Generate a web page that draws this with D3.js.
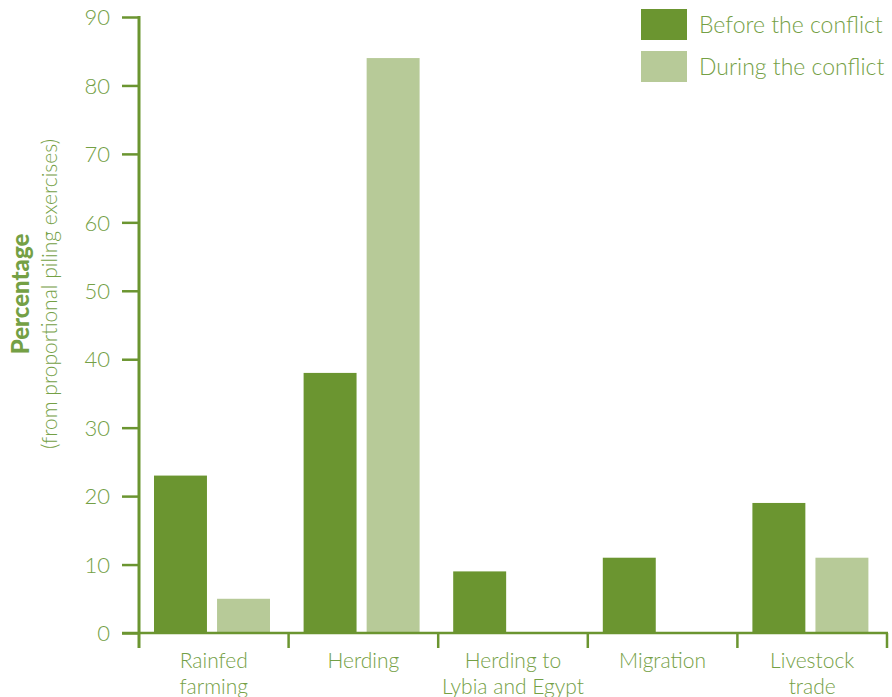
<!DOCTYPE html>
<html><head><meta charset="utf-8">
<script src="https://cdn.jsdelivr.net/npm/d3@7"></script>
<style>body{margin:0;background:#fff}svg{display:block}text{font-family:Lato,"Open Sans",sans-serif;font-weight:300}</style>
</head><body><svg id="c" width="892" height="697"></svg>
<script>
const categories = [["Rainfed","farming"],["Herding"],["Herding to","Lybia and Egypt"],["Migration"],["Livestock","trade"]];
const seriesNames = ["Before the conflict","During the conflict"];
const beforeValues = [23,38,9,11,19];
const duringValues = [5,84,0,0,11];
const yTicks = [0,10,20,30,40,50,60,70,80,90];
const colors = ["#6b9530","#b7ca98"];
const textColor = "#74a045";
const axisColor = "#6b9530";

const svg = d3.select("#c");
const x0 = d3.scaleBand().domain(d3.range(categories.length)).range([139,887]).padding(0);
const x1 = d3.scaleBand().domain([0,1]).range([15,131]).paddingInner(0.16).paddingOuter(0);
const y = d3.scaleLinear().domain([0,90]).range([633,17]);

const data = categories.map((c,i)=>({i, vals:[beforeValues[i],duringValues[i]]}));
const g = svg.append("g");
g.selectAll("g.cat").data(data).join("g").attr("transform",d=>`translate(${x0(d.i)},0)`)
 .selectAll("rect").data(d=>d.vals.map((v,k)=>({v,k}))).join("rect")
 .attr("x",d=>x1(d.k)).attr("width",x1.bandwidth())
 .attr("y",d=>y(d.v)).attr("height",d=>y(0)-y(d.v)).attr("fill",d=>colors[d.k]);

// y axis
const ya = svg.append("g").attr("transform","translate(139,0)")
 .call(d3.axisLeft(y).tickValues(yTicks).tickSize(17).tickPadding(12));
ya.select(".domain").remove();
ya.selectAll(".tick line").attr("stroke",axisColor).attr("stroke-width",2.5);
ya.selectAll(".tick text").attr("fill",textColor).style("font-size","22px").style("font-family","Lato").style("font-weight","300").attr("dy","0.35em");
svg.append("line").attr("x1",139).attr("x2",139).attr("y1",16).attr("y2",648).attr("stroke",axisColor).attr("stroke-width",3);

// x axis
svg.append("line").attr("x1",122).attr("x2",888).attr("y1",y(0)).attr("y2",y(0)).attr("stroke",axisColor).attr("stroke-width",2.5);
const bounds = d3.range(categories.length+1).map(i=> i<categories.length ? x0(i) : x0(i-1)+x0.bandwidth());
svg.selectAll("line.bt").data(bounds.slice(1)).join("line").attr("class","bt")
 .attr("x1",d=>d).attr("x2",d=>d).attr("y1",y(0)).attr("y2",648).attr("stroke",axisColor).attr("stroke-width",2.5);
svg.selectAll("text.xl").data(data).join("text").attr("class","xl")
 .attr("x",d=>x0(d.i)+x0.bandwidth()/2).attr("y",668).attr("text-anchor","middle")
 .attr("fill",textColor).style("font-size","21px")
 .each(function(d){ const t=d3.select(this); categories[d.i].forEach((s,j)=>t.append("tspan").attr("x",x0(d.i)+x0.bandwidth()/2).attr("dy",j?25.5:0).text(s)); });

// y title
svg.append("text").attr("transform","translate(29,294) rotate(-90)").attr("text-anchor","middle")
 .attr("fill",textColor).style("font-size","24px").style("font-weight","900").text("Percentage");
svg.append("text").attr("transform","translate(57,294) rotate(-90)").attr("text-anchor","middle")
 .attr("fill",textColor).style("font-size","21px").text("(from proportional piling exercises)");

// legend
const lg = svg.selectAll("g.lg").data(seriesNames).join("g").attr("class","lg").attr("transform",(d,i)=>`translate(641,${9+i*42})`);
lg.append("rect").attr("width",46).attr("height",31).attr("fill",(d,i)=>colors[i]);
lg.append("text").attr("x",58).attr("y",16).attr("dy","0.35em").attr("fill",textColor).style("font-size","23px").text(d=>d);
</script></body></html>
